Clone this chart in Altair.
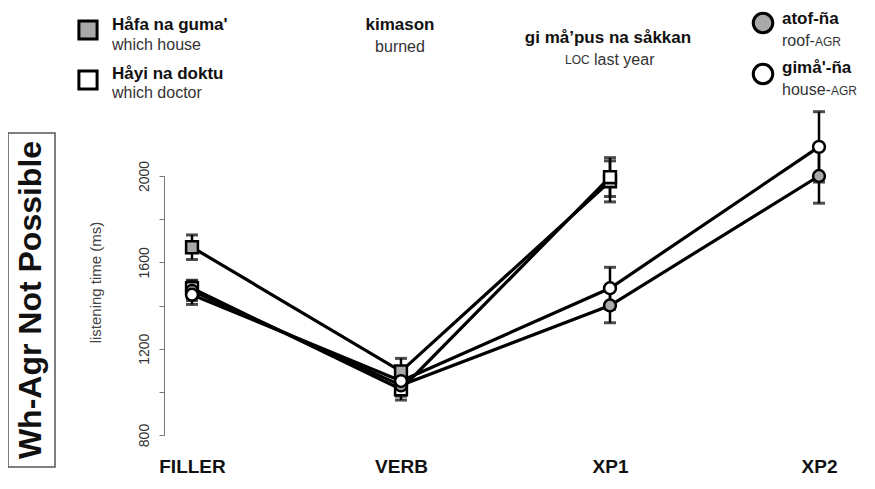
import altair as alt
import pandas as pd

# ---------------- data ----------------
conds = ["FILLER", "VERB", "XP1", "XP2"]
series = ["Håfa na guma'", "Håyi na doktu", "atof-ña", "gimå'-ña"]
shapes = ["square", "square", "circle", "circle"]
fills = ["#a9a9a9", "white", "#a9a9a9", "white"]

means_hafa = [1670, 1095, 1975, None]
means_hayi = [1480, 1012, 1995, None]
means_atof = [1468, 1030, 1400, 2000]
means_gima = [1450, 1050, 1480, 2135]

errs_hafa = [57, 60, 95, None]
errs_hayi = [37, 50, 90, None]
errs_atof = [45, 50, 80, 126]
errs_gima = [45, 60, 97, 163]

y_ticks = [800, 1000, 1200, 1400, 1600, 1800, 2000]

rows = []
for s, ms, es in zip(series,
                     [means_hafa, means_hayi, means_atof, means_gima],
                     [errs_hafa, errs_hayi, errs_atof, errs_gima]):
    for c, m, e in zip(conds, ms, es):
        if m is None:
            continue
        rows.append({"series": s, "cond": c, "value": m, "lo": m - e, "hi": m + e})
df = pd.DataFrame(rows)

F = "Liberation Sans"
OX, OY = 164, 176  # page position of plot origin

X = alt.X("cond:N", sort=conds,
          scale=alt.Scale(type="point", domain=conds, padding=0.134),
          axis=alt.Axis(title=None, domain=False, ticks=False, labelAngle=0,
                        labelFont=F, labelFontSize=19, labelFontWeight="bold",
                        labelColor="#111", labelPadding=22, grid=False))
Y = alt.Y("value:Q",
          scale=alt.Scale(domain=[800, 2000], nice=False, zero=False),
          axis=alt.Axis(values=y_ticks, grid=False, format="d",
                        labelExpr="datum.value % 400 == 0 ? datum.label : ''",
                        labelAngle=270, labelAlign="center", labelBaseline="bottom",
                        labelFont=F, labelFontSize=14, labelColor="#333",
                        labelPadding=8, tickSize=5, tickColor="#777",
                        domainColor="#777", domainWidth=1, tickWidth=1,
                        title="listening time (ms)", titleFont=F, titleFontSize=15,
                        titleFontWeight="normal", titleColor="#444",
                        titleAngle=270, titleX=-61, titleY=106,
                        titleAlign="center", titleBaseline="bottom"))

base = alt.Chart(df)

lines = base.mark_line(color="black", strokeWidth=3.2).encode(
    x=X, y=Y, detail="series:N")

err = base.mark_rule(color="black", strokeWidth=2.5).encode(
    x=X, y=alt.Y("lo:Q"), y2="hi:Q")
cap_lo = base.mark_tick(color="black", thickness=3, size=12, orient="horizontal").encode(
    x=X, y=alt.Y("lo:Q"))
cap_hi = base.mark_tick(color="black", thickness=3, size=12, orient="horizontal").encode(
    x=X, y=alt.Y("hi:Q"))

pts = base.mark_point(filled=True, stroke="black", strokeWidth=2.5, size=140, opacity=1).encode(
    x=X, y=Y,
    shape=alt.Shape("series:N", scale=alt.Scale(domain=series, range=shapes), legend=None),
    fill=alt.Fill("series:N", scale=alt.Scale(domain=series, range=fills), legend=None))

dummy = pd.DataFrame({"a": [0]})


def ann(text, px, py, size, bold=False, align="left", color="#111", angle=None):
    kw = dict(text=text, fontSize=size, fontWeight="bold" if bold else "normal",
              align=align, baseline="middle", font=F, color=color)
    if angle is not None:
        kw["angle"] = angle
    return alt.Chart(dummy).mark_text(**kw).encode(
        x=alt.value(px - OX), y=alt.value(py - OY))


def sym(shape, fill, px, py, size):
    return alt.Chart(dummy).mark_point(shape=shape, filled=True, fill=fill, stroke="black",
                                       strokeWidth=3, size=size, opacity=1).encode(
        x=alt.value(px - OX), y=alt.value(py - OY))


box = alt.Chart(dummy).mark_rect(fill="transparent", stroke="#555", strokeWidth=1.5).encode(
    x=alt.value(8 - OX), x2=alt.value(55 - OX), y=alt.value(133 - OY), y2=alt.value(467 - OY))

annots = [
    box,
    ann("Wh-Agr Not Possible", 31, 300, 32, bold=True, align="center", angle=270),
    sym("square", "#a9a9a9", 88, 30, 330),
    sym("square", "white", 88, 80, 330),
    ann(series[0], 112, 25, 17, bold=True),
    ann("which house", 112, 45, 16, color="#333"),
    ann(series[1], 112, 74, 17, bold=True),
    ann("which doctor", 112, 93, 16, color="#333"),
    ann("kimason", 400, 25, 17, bold=True, align="center"),
    ann("burned", 400, 47, 16, align="center", color="#333"),
    ann("gi må’pus na såkkan", 608, 38, 17, bold=True, align="center"),
    ann("LOC", 565, 60, 12, color="#333"),
    ann("last year", 594, 60, 16, color="#333"),
    sym("circle", "#a9a9a9", 763, 23, 380),
    sym("circle", "white", 763, 74, 380),
    ann(series[2], 782, 19, 17, bold=True),
    ann("roof-", 782, 41, 16, color="#333"),
    ann("AGR", 815, 42, 12, color="#333"),
    ann(series[3], 782, 68, 17, bold=True),
    ann("house-", 782, 90, 16, color="#333"),
    ann("AGR", 831, 91, 12, color="#333"),
]

chart = alt.layer(lines, err, cap_lo, cap_hi, pts, *annots).properties(
    width=683, height=259,
    autosize=alt.AutoSizeParams(type="none"),
    padding={"left": 156, "top": 168, "right": 20, "bottom": 46},
    background="white",
).configure_view(stroke=None)

chart.save("out.html", embed_options={"renderer": "svg", "actions": False})
